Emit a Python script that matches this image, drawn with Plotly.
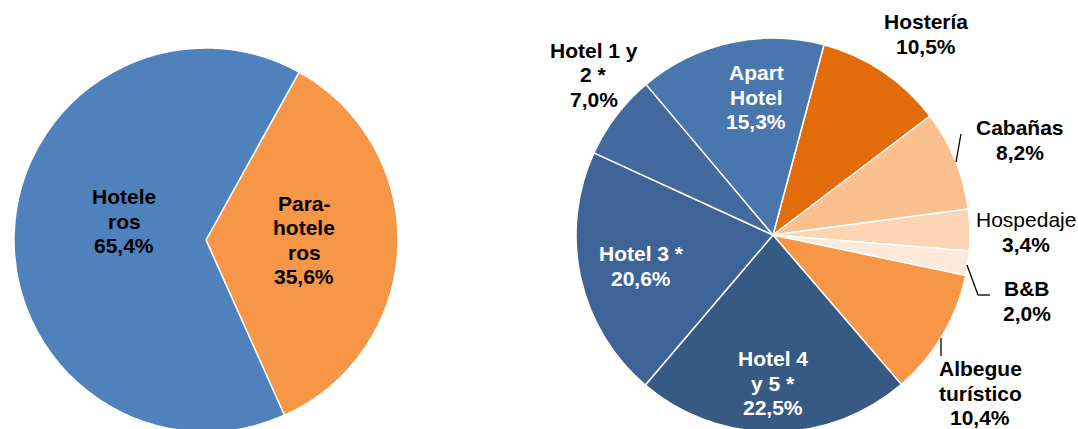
import plotly.graph_objects as go

W, H = 1078, 440

# ---- data ----
left_labels = ["Parahoteleros", "Hoteleros"]
left_values = [35.6, 65.4]
left_display = ["Para-<br>hotele<br>ros", "Hotele<br>ros"]
left_colors = ["#F79646", "#4F81BD"]

right_labels = ["Hostería", "Cabañas", "Hospedaje", "B&B", "Albegue turístico",
                "Hotel 4 y 5 *", "Hotel 3 *", "Hotel 1 y 2 *", "Apart Hotel"]
right_values = [10.5, 8.2, 3.4, 2.0, 10.4, 22.5, 20.6, 7.0, 15.3]
right_display = ["Hostería", "Cabañas", "Hospedaje", "B&B", "Albegue<br>turístico",
                 "Hotel 4<br>y 5 *", "Hotel 3 *", "Hotel 1 y<br>2 *", "Apart<br>Hotel"]
right_colors = ["#E36C0A", "#FAC090", "#FCD5B5", "#FDE9D9", "#F79646",
                "#375A85", "#3E6497", "#436A9F", "#4A76AE"]

# ---- label placement (pixel centers of text blocks) and styles ----
left_pos = [(304, 240), (124, 221)]
right_pos = [(926, 34), (1020, 140), (1026, 232), (1027, 301), (980, 393),
             (773, 383), (641, 266), (594, 75), (756, 97)]
right_fontcol = ["black", "black", "black", "black", "black",
                 "white", "white", "black", "white"]
right_namebold = [True, True, False, True, True, True, True, True, True]

FONT = "Liberation Sans, Arial, sans-serif"
FSIZE = 21
LINE = 24.5


def fmt(v):
    return f"{v:.1f}%".replace(".", ",")


def px(x, y):
    return x / W, 1 - y / H


fig = go.Figure()
fig.add_trace(go.Pie(
    labels=left_labels, values=left_values, sort=False, direction="clockwise",
    rotation=29, marker=dict(colors=left_colors, line=dict(color="white", width=1.5)),
    textinfo="none", hoverinfo="label+percent", showlegend=False,
    domain=dict(x=[14 / W, 398 / W], y=[1 - 432 / H, 1 - 48 / H]),
))
fig.add_trace(go.Pie(
    labels=right_labels, values=right_values, sort=False, direction="clockwise",
    rotation=15, marker=dict(colors=right_colors, line=dict(color="white", width=1.5)),
    textinfo="none", hoverinfo="label+percent", showlegend=False,
    domain=dict(x=[576 / W, 970 / W], y=[1 - 432 / H, 1 - 38 / H]),
))

annotations = []


def add_block(name, v, pos, col, namebold):
    lines = name.split("<br>")
    parts = [(ln, namebold) for ln in lines] + [(fmt(v), True)]
    n = len(parts)
    cx, cy = pos
    for i, (t, b) in enumerate(parts):
        y = cy + (i - (n - 1) / 2) * LINE
        ax, ay = px(cx, y)
        annotations.append(dict(
            x=ax, y=ay, xref="paper", yref="paper", showarrow=False,
            xanchor="center", yanchor="middle", align="center",
            text=f"<b>{t}</b>" if b else t,
            font=dict(family=FONT, size=FSIZE, color=col),
        ))


for name, v, pos in zip(left_display, left_values, left_pos):
    add_block(name, v, pos, "black", True)
for name, v, pos, col, nb in zip(right_display, right_values, right_pos,
                                 right_fontcol, right_namebold):
    add_block(name, v, pos, col, nb)

# leader lines
shapes = []


def seg(x0, y0, x1, y1):
    a0, b0 = px(x0, y0)
    a1, b1 = px(x1, y1)
    shapes.append(dict(type="line", xref="paper", yref="paper", x0=a0, y0=b0,
                       x1=a1, y1=b1, line=dict(color="black", width=1.3)))


seg(956, 162, 961, 134)
seg(967, 265, 978, 295)
seg(978, 295, 990, 295)
seg(941, 338, 941, 356)

fig.update_layout(
    width=W, height=H, margin=dict(l=0, r=0, t=0, b=0),
    paper_bgcolor="white", plot_bgcolor="white",
    annotations=annotations, shapes=shapes,
)

fig.write_html("out.html", config={"displayModeBar": False},
               post_script="document.body.style.margin='0';document.body.style.overflow='hidden';")
